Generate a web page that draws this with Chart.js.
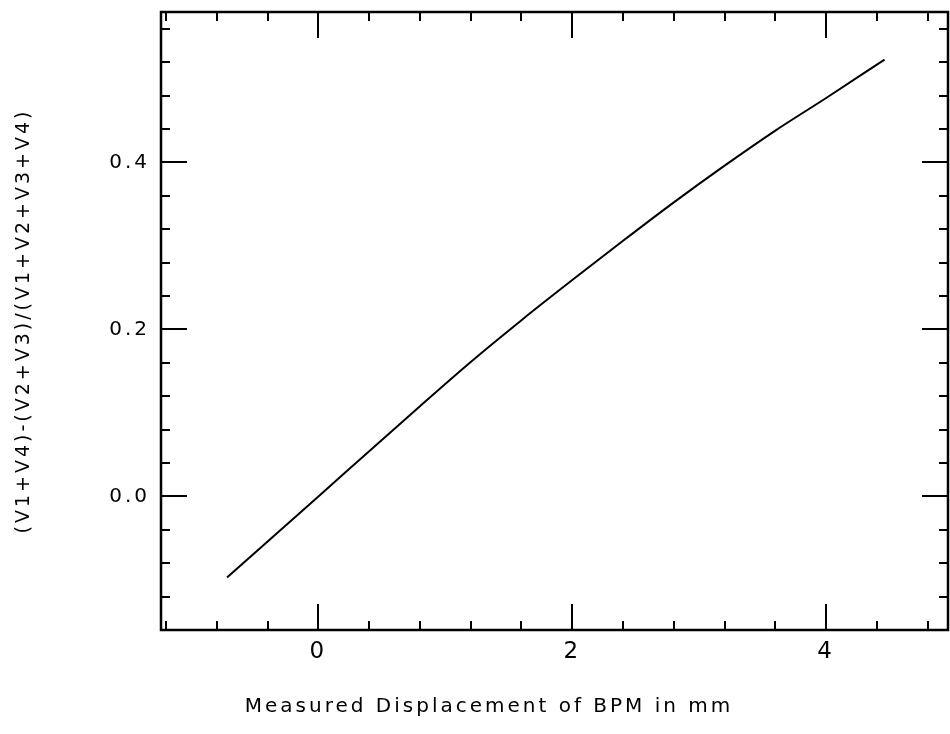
<!DOCTYPE html>
<html>
<head>
<meta charset="utf-8">
<script src="https://cdn.jsdelivr.net/npm/chart.js@4/dist/chart.umd.min.js"></script>
<style>
  html, body { margin: 0; padding: 0; background: #fff; }
  #wrap { width: 950px; height: 734px; }
</style>
</head>
<body>
<div id="wrap"><canvas id="mainChart" width="950" height="734"></canvas></div>
<script>
// values
const displacement = [-0.72, -0.4, 0, 0.4, 0.8, 1.2, 1.6, 2.0, 2.4, 2.8, 3.2, 3.6, 4.0, 4.46];
const ratio = [-0.097, -0.054, 0.000, 0.054, 0.108, 0.161, 0.211, 0.259, 0.306, 0.352, 0.396, 0.438, 0.477, 0.523];

// axis ticks
const xLabelTicks = [0, 2, 4];
const xMinorTicks = [-1.2, -0.8, -0.4, 0, 0.4, 0.8, 1.2, 1.6, 2.0, 2.4, 2.8, 3.2, 3.6, 4.0, 4.4, 4.8];
const yLabelTicks = [0, 0.2, 0.4];
const yMinorTicks = [-0.12, -0.08, -0.04, 0, 0.04, 0.08, 0.12, 0.16, 0.2, 0.24, 0.28, 0.32, 0.36, 0.4, 0.44, 0.48, 0.52, 0.56];

const xTitle = 'Measured Displacement of BPM in mm';
const yTitle = '(V1+V4)-(V2+V3)/(V1+V2+V3+V4)';

const FONT = 'DejaVu Sans';
Chart.defaults.color = '#000';
Chart.defaults.font.family = FONT;

function isMajor(v, list) {
  return list.some(m => Math.abs(m - v) < 1e-6);
}

// wide plotter-style lettering
const spacing = {
  id: 'spacing',
  beforeUpdate(chart) { chart.ctx.letterSpacing = '3px'; },
  beforeDraw(chart) { chart.ctx.letterSpacing = '3px'; }
};

// frame with inward ticks on all four sides
const frameTicks = {
  id: 'frameTicks',
  afterDatasetsDraw(chart) {
    const ctx = chart.ctx, a = chart.chartArea, x = chart.scales.x, y = chart.scales.y;
    ctx.save();
    ctx.strokeStyle = '#000';
    ctx.lineWidth = 2;
    ctx.beginPath();
    xMinorTicks.forEach(v => {
      const px = Math.round(x.getPixelForValue(v));
      const len = isMajor(v, xLabelTicks) ? 26 : 9;
      ctx.moveTo(px, a.bottom); ctx.lineTo(px, a.bottom - len);
      ctx.moveTo(px, a.top); ctx.lineTo(px, a.top + len);
    });
    yMinorTicks.forEach(v => {
      const py = Math.round(y.getPixelForValue(v));
      const len = isMajor(v, yLabelTicks) ? 26 : 9;
      ctx.moveTo(a.left, py); ctx.lineTo(a.left + len, py);
      ctx.moveTo(a.right, py); ctx.lineTo(a.right - len, py);
    });
    ctx.stroke();
    ctx.lineWidth = 2.5;
    ctx.strokeRect(a.left, a.top, a.right - a.left, a.bottom - a.top);
    ctx.restore();
  }
};

const data = {
  datasets: [{
    label: 'ratio',
    data: displacement.map((v, i) => ({ x: v, y: ratio[i] })),
    showLine: true,
    borderColor: '#000',
    borderWidth: 2,
    pointRadius: 0,
    cubicInterpolationMode: 'monotone',
    fill: false
  }]
};

const config = {
  type: 'scatter',
  data: data,
  options: {
    responsive: false,
    animation: false,
    layout: { padding: { left: 30, top: 12, right: 2, bottom: 0 } },
    plugins: {
      legend: { display: false },
      tooltip: { enabled: false },
      title: {
        display: true,
        text: xTitle,
        position: 'bottom',
        color: '#000',
        font: { family: FONT, size: 20, weight: 'normal' },
        padding: { top: 10, bottom: 15 }
      }
    },
    scales: {
      x: {
        type: 'linear',
        min: -1.24,
        max: 4.96,
        grid: { display: false, drawTicks: false },
        border: { display: false },
        afterBuildTicks: s => { s.ticks = xLabelTicks.map(v => ({ value: v })); },
        afterFit: s => { s.height = 55; s.paddingLeft = 0; s.paddingRight = 0; },
        ticks: {
          font: { size: 23 },
          padding: 8,
          maxRotation: 0,
          callback: v => String(v)
        }
      },
      y: {
        type: 'linear',
        min: -0.16,
        max: 0.58,
        grid: { display: false, drawTicks: false },
        border: { display: false },
        afterBuildTicks: s => { s.ticks = yLabelTicks.map(v => ({ value: v })); },
        afterFit: s => { s.width = 131; s.paddingTop = 0; s.paddingBottom = 0; },
        ticks: {
          font: { size: 20 },
          padding: 11,
          callback: v => v.toFixed(1)
        },
        title: {
          display: true,
          text: yTitle,
          font: { size: 19 },
          padding: { top: -17, bottom: 0 }
        }
      }
    }
  },
  plugins: [spacing, frameTicks]
};

const myChart = new Chart(document.getElementById('mainChart'), config);
</script>
</body>
</html>
